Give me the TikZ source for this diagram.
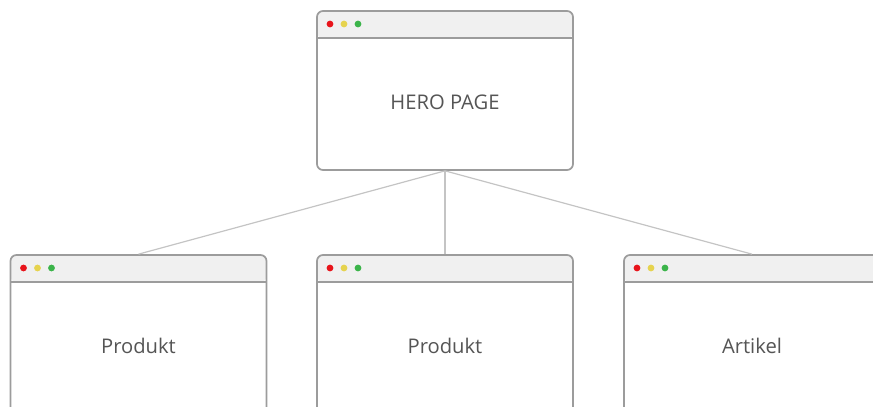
\documentclass[tikz,border=0pt]{standalone}
\usepackage{fontspec}
\setmainfont{Open Sans}
\definecolor{bordergray}{HTML}{9C9C9C}
\definecolor{barfill}{HTML}{F0F0F0}
\definecolor{linkgray}{HTML}{C4C4C4}
\definecolor{txtgray}{HTML}{555555}
\definecolor{dotred}{HTML}{E8141B}
\definecolor{dotyellow}{HTML}{E6D34E}
\definecolor{dotgreen}{HTML}{3BB44A}
\tikzset{
  win/.style={draw=bordergray, line width=1.7pt, fill=white, rounded corners=6pt,
    minimum width=256pt, minimum height=159pt, inner sep=0pt,
    path picture={
      \fill[barfill] (path picture bounding box.north west) rectangle ([yshift=-27pt]path picture bounding box.north east);
      \draw[bordergray, line width=1.7pt] ([yshift=-27pt]path picture bounding box.north west) -- ([yshift=-27pt]path picture bounding box.north east);
      \fill[dotred] ([xshift=13pt,yshift=-13pt]path picture bounding box.north west) circle (3.4pt);
      \fill[dotyellow] ([xshift=27pt,yshift=-13pt]path picture bounding box.north west) circle (3.4pt);
      \fill[dotgreen] ([xshift=41pt,yshift=-13pt]path picture bounding box.north west) circle (3.4pt);
    }},
  wtext/.style={text=txtgray, font=\fontsize{20.2}{22}\selectfont, inner sep=0pt},
  link/.style={draw=linkgray, line width=1.2pt}
}
\begin{document}
\begin{tikzpicture}[x=1pt,y=-1pt]
\useasboundingbox (0,0) rectangle (873,407);
\clip (0,0) rectangle (873,407);
\node[win] (hero) at (445,90.5) {};
\node[win] (p1) at (138.5,334.5) {};
\node[win] (p2) at (445,334.5) {};
\node[win] (a1) at (752,334.5) {};
\node[wtext] (herot) at (445,102) {HERO PAGE};
\node[wtext] (p1t) at (138.5,346) {Produkt};
\node[wtext] (p2t) at (445,346) {Produkt};
\node[wtext] (a1t) at (752,346) {Artikel};
\draw[link] (hero.south) -- (p1.north);
\draw[link] (hero.south) -- (p2.north);
\draw[link] (hero.south) -- (a1.north);
\end{tikzpicture}
\end{document}
